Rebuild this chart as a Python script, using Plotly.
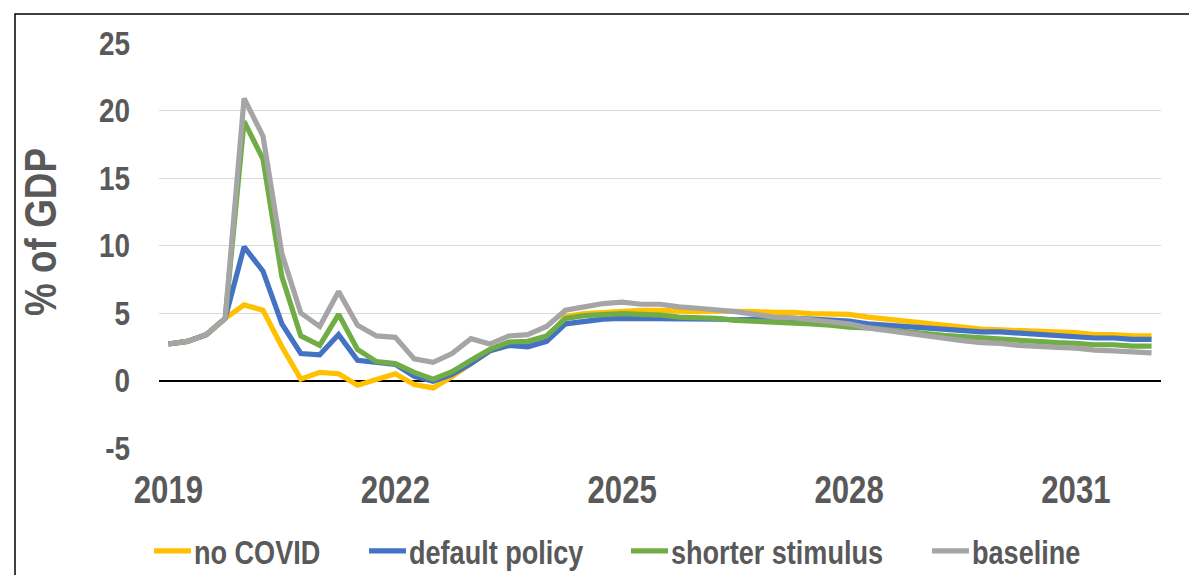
import plotly.graph_objects as go

# ---- data (quarterly, 2019Q1 .. 2032Q1) ----
years = list(range(2019, 2033))
quarters = [f"{y}Q{q}" for y in years for q in range(1, 5)][:53]

no_covid = [2.7, 2.9, 3.4, 4.6, 5.6, 5.2, 2.5, 0.1, 0.6, 0.5, -0.35, 0.05, 0.5,
            -0.3, -0.55, 0.3, 1.3, 2.2, 2.6, 2.6, 3.0, 4.75, 4.95, 5.05, 5.15, 5.2,
            5.2, 5.15, 5.1, 5.15, 5.15, 5.1, 5.05, 5.05, 4.95, 4.9, 4.9, 4.7, 4.55,
            4.4, 4.25, 4.1, 3.95, 3.8, 3.75, 3.7, 3.65, 3.65, 3.55, 3.4, 3.4, 3.3, 3.3]
default_policy = [2.7, 2.9, 3.4, 4.6, 9.9, 8.1, 4.2, 2.0, 1.9, 3.4, 1.5, 1.35, 1.2,
                  0.3, -0.05, 0.45, 1.25, 2.2, 2.6, 2.5, 2.9, 4.2, 4.4, 4.55, 4.6, 4.6,
                  4.6, 4.6, 4.6, 4.55, 4.5, 4.55, 4.6, 4.6, 4.55, 4.5, 4.4, 4.2, 4.1,
                  4.0, 3.9, 3.85, 3.7, 3.6, 3.6, 3.5, 3.4, 3.35, 3.25, 3.15, 3.15, 3.05, 3.05]
shorter_stimulus = [2.7, 2.9, 3.4, 4.6, 19.2, 16.4, 7.7, 3.3, 2.6, 4.9, 2.3, 1.4, 1.25,
                    0.6, 0.1, 0.65, 1.5, 2.3, 2.85, 2.9, 3.3, 4.6, 4.8, 4.85, 4.95, 4.9,
                    4.85, 4.7, 4.65, 4.6, 4.45, 4.4, 4.35, 4.3, 4.2, 4.1, 3.95, 3.9, 3.75,
                    3.65, 3.5, 3.35, 3.25, 3.15, 3.1, 3.0, 2.9, 2.8, 2.75, 2.65, 2.65, 2.55, 2.55]
baseline = [2.7, 2.9, 3.4, 4.6, 20.9, 18.1, 9.4, 5.0, 4.0, 6.6, 4.1, 3.3, 3.2,
            1.6, 1.35, 2.0, 3.1, 2.7, 3.3, 3.4, 4.0, 5.2, 5.45, 5.7, 5.8, 5.65,
            5.65, 5.45, 5.35, 5.25, 5.1, 4.9, 4.7, 4.65, 4.5, 4.4, 4.2, 3.9, 3.7,
            3.5, 3.35, 3.1, 2.95, 2.8, 2.75, 2.6, 2.5, 2.45, 2.4, 2.25, 2.2, 2.1, 2.05]

series_names = ["no COVID", "default policy", "shorter stimulus", "baseline"]
series_values = [no_covid, default_policy, shorter_stimulus, baseline]
series_colors = ["#FFC000", "#4472C4", "#70AD47", "#A5A5A5"]

tick_years = ["2019", "2022", "2025", "2028", "2031"]
tick_cats = [f"{y}Q1" for y in tick_years]

y_ticks = [-5, 0, 5, 10, 15, 20, 25]
y_tick_text = ["-5", "0", "5", "10", "15", "20", "25"]

FONT = "Liberation Sans, Arial, sans-serif"
TXT = "#595959"

W, H = 1197, 575
PL, PR, PT, PB = 151, 1153, 35, 454  # plot area in pixels

fig = go.Figure()
legend_ids = ["legend", "legend2", "legend3", "legend4"]
for name, vals, col, lid in zip(series_names, series_values, series_colors, legend_ids):
    fig.add_trace(go.Scatter(x=quarters, y=vals, mode="lines", name=name,
                             line=dict(color=col, width=5.2), legend=lid))

legend_x = [146, 361, 623, 924]
layout_legends = {}
for lid, lx in zip(legend_ids, legend_x):
    layout_legends[lid] = dict(
        xref="container", yref="container", x=lx / W, y=1 - 543 / H,
        xanchor="left", yanchor="middle", orientation="h",
        font=dict(family=FONT, size=33, color=TXT, weight="bold"),
        bgcolor="rgba(0,0,0,0)", borderwidth=0,
    )

fig.update_layout(
    width=W, height=H,
    margin=dict(l=PL, r=W - PR, t=PT, b=H - PB, pad=0),
    paper_bgcolor="white", plot_bgcolor="white",
    showlegend=True,
    **layout_legends,
    xaxis=dict(
        type="category", categoryorder="array", categoryarray=quarters,
        range=[-0.5, len(quarters) - 0.5],
        tickmode="array", tickvals=tick_cats, ticktext=tick_years,
        showgrid=False, showline=False, zeroline=False, ticks="",
        ticklabelstandoff=16,
        tickfont=dict(family=FONT, size=38, color=TXT, weight="bold"),
    ),
    yaxis=dict(
        range=[-5, 25], tickmode="array", tickvals=y_ticks, ticktext=y_tick_text,
        showgrid=True, gridcolor="#D9D9D9", gridwidth=1.3,
        zeroline=True, zerolinecolor="#000000", zerolinewidth=1.5,
        showline=False, ticks="", ticklabelstandoff=28,
        tickfont=dict(family=FONT, size=34, color=TXT, weight="bold"),
    ),
    annotations=[dict(
        text="% of GDP", xref="paper", yref="paper",
        x=(32 - PL) / (PR - PL), y=(PB - 231) / (PB - PT),
        xanchor="center", yanchor="middle", textangle=-90, showarrow=False,
        font=dict(family=FONT, size=45, color=TXT, weight="bold"),
    )],
    shapes=[dict(
        type="rect", xref="paper", yref="paper",
        x0=(7 - PL) / (PR - PL), x1=(1250 - PL) / (PR - PL),
        y0=(PB - 700) / (PB - PT), y1=(PB - 5) / (PB - PT),
        line=dict(color="#000000", width=1.5), fillcolor="rgba(0,0,0,0)", layer="below",
    )],
)

# Narrow (Arial-Narrow-like) lettering and longer legend swatches, as in the reference.
post = """
var gd = document.getElementById('{plot_id}');
function restyleText(){
  var ts = gd.querySelectorAll('svg text');
  for (var i = 0; i < ts.length; i++) {
    var t = ts[i];
    if (t.getAttribute('data-sq')) continue;
    var s = t.textContent;
    if (!s || !s.trim()) continue;
    var w = t.getComputedTextLength();
    if (w > 0) {
      t.setAttribute('textLength', (w * 0.82).toFixed(2));
      t.setAttribute('lengthAdjust', 'spacingAndGlyphs');
      t.setAttribute('data-sq', '1');
    }
  }
  var ls = gd.querySelectorAll('.legendlines path.js-line');
  for (var j = 0; j < ls.length; j++) { ls[j].setAttribute('d', 'M-10,0h47'); }
}
restyleText();
if (gd.on) gd.on('plotly_afterplot', restyleText);
setTimeout(restyleText, 30);
"""

fig.write_html("out.html", post_script=post)
